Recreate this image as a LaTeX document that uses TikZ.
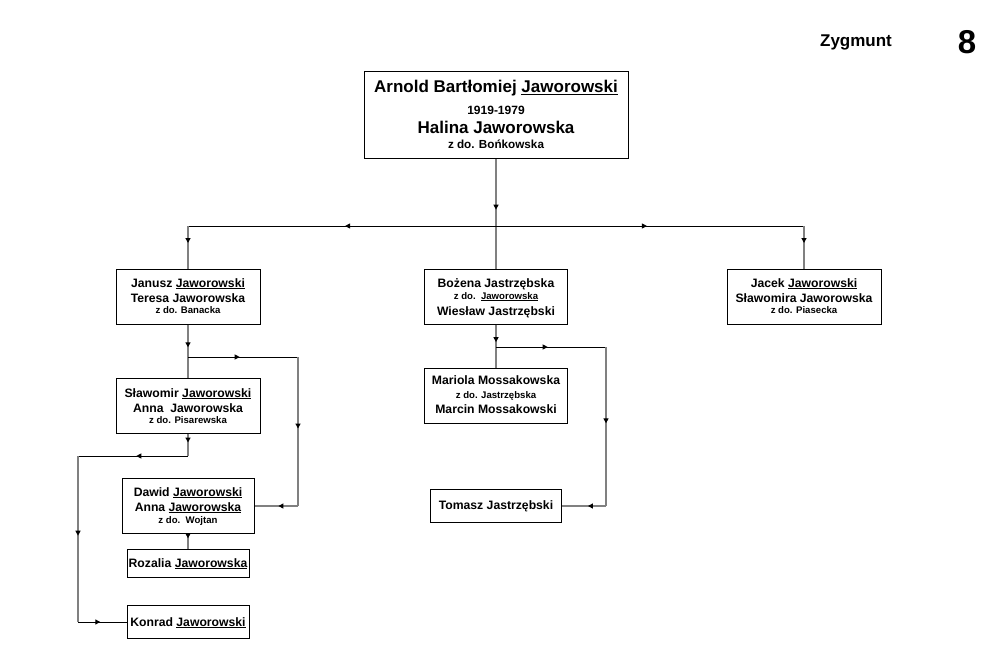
\documentclass[tikz,border=0pt]{standalone}
\usepackage{fontspec}
\setmainfont{Liberation Sans}
\usetikzlibrary{decorations.markings,arrows.meta}
\tikzset{
  box/.style={draw=black,line width=1pt,inner sep=0pt,fill=white},
  huge/.style={font=\bfseries\fontsize{17}{19}\selectfont,anchor=base,inner sep=0pt},
  big/.style={font=\bfseries\fontsize{12.2}{14}\selectfont,anchor=base,inner sep=0pt},
  small/.style={font=\bfseries\fontsize{9.6}{11}\selectfont,anchor=base,inner sep=0pt},
  vline/.style={draw=black!50,line width=2pt},
  hline/.style={draw=black,line width=1pt},
  arr/.style={postaction={decorate,decoration={markings,mark=at position #1 with {\arrow[black]{Triangle[length=5pt,width=5pt]}}}}},
}
\begin{document}
\begin{tikzpicture}[x=1pt,y=-1pt]
\useasboundingbox (0,0) rectangle (1003,671);
% junction coordinates
\coordinate (j0) at (496,226);
\coordinate (jl) at (188,226);
\coordinate (jr) at (804,226);
\coordinate (j1) at (188,357);
\coordinate (j1r) at (298,357);
\coordinate (j1d) at (298,506);
\coordinate (j2) at (188,456);
\coordinate (j2l) at (78,456);
\coordinate (j2d) at (78,622);
\coordinate (j3) at (496,347);
\coordinate (j3r) at (606,347);
\coordinate (j3d) at (606,506);
% boxes
\node[box,minimum width=264pt,minimum height=87pt] (root) at (496,115.5) {};
\node[box,minimum width=144pt,minimum height=55pt] (janusz) at (188,296.5) {};
\node[box,minimum width=143pt,minimum height=55pt] (bozena) at (496,296.5) {};
\node[box,minimum width=154pt,minimum height=55pt] (jacek) at (804,296.5) {};
\node[box,minimum width=144pt,minimum height=55pt] (slawomir) at (188,405.5) {};
\node[box,minimum width=143pt,minimum height=55pt] (mariola) at (496,395.5) {};
\node[box,minimum width=132pt,minimum height=55pt] (dawid) at (188,506) {};
\node[box,minimum width=122pt,minimum height=28pt] (rozalia) at (188,563) {};
\node[box,minimum width=122pt,minimum height=33pt] (konrad) at (188,622) {};
\node[box,minimum width=131pt,minimum height=33pt] (tomasz) at (496,506) {};
% connectors
\draw[vline,arr=0.46] (root.south) -- (bozena.north);
\draw[hline,arr=0.49] (j0) -- (jl);
\draw[hline,arr=0.49] (j0) -- (jr);
\draw[vline,arr=0.4] (jl) -- (janusz.north);
\draw[vline,arr=0.4] (jr) -- (jacek.north);
\draw[vline,arr=0.43] (janusz.south) -- (slawomir.north);
\draw[hline,arr=0.47] (j1) -- (j1r);
\draw[vline,arr=0.48] (j1r) -- (j1d);
\draw[vline,arr=0.45] (j1d) -- (dawid.east);
\draw[vline,arr=0.4] (slawomir.south) -- (j2);
\draw[hline,arr=0.47] (j2) -- (j2l);
\draw[vline,arr=0.48] (j2l) -- (j2d);
\draw[hline,arr=0.46] (j2d) -- (konrad.west);
\draw[vline,arr=0.3] (dawid.south) -- (rozalia.north);
\draw[vline,arr=0.41] (bozena.south) -- (mariola.north);
\draw[hline,arr=0.47] (j3) -- (j3r);
\draw[vline,arr=0.48] (j3r) -- (j3d);
\draw[vline,arr=0.41] (j3d) -- (tomasz.east);
% texts
\node[huge] (r1) at (496,93) {Arnold Bartłomiej \underline{Jaworowski}};
\node[small,font=\bfseries\fontsize{12}{14}\selectfont] (r2) at (496,115) {1919-1979};
\node[huge] (r3) at (496,134) {Halina Jaworowska};
\node[small,font=\bfseries\fontsize{11.7}{14}\selectfont] (r4) at (496,149) {z do. Bońkowska};
\node[big] (a1) at (188,287) {Janusz \underline{Jaworowski}};
\node[big] (a2) at (188,302) {Teresa Jaworowska};
\node[small] (a3) at (188,313) {z do. Banacka};
\node[big] (b1) at (496,287) {Bożena Jastrzębska};
\node[small] (b2) at (496,299) {z do.\ \ \underline{Jaworowska}};
\node[big] (b3) at (496,315) {Wiesław Jastrzębski};
\node[big] (c1) at (804,287) {Jacek \underline{Jaworowski}};
\node[big] (c2) at (804,302) {Sławomira Jaworowska};
\node[small] (c3) at (804,313) {z do. Piasecka};
\node[big] (d1) at (188,397) {Sławomir \underline{Jaworowski}};
\node[big] (d2) at (188,412) {Anna\ \ Jaworowska};
\node[small] (d3) at (188,423) {z do. Pisarewska};
\node[big] (e1) at (496,384) {Mariola Mossakowska};
\node[small] (e2) at (496,398) {z do. Jastrzębska};
\node[big] (e3) at (496,413) {Marcin Mossakowski};
\node[big] (f1) at (188,496) {Dawid \underline{Jaworowski}};
\node[big] (f2) at (188,511) {Anna \underline{Jaworowska}};
\node[small] (f3) at (188,523) {z do.\ \ Wojtan};
\node[big] (g1) at (188,567) {Rozalia \underline{Jaworowska}};
\node[big] (h1) at (188,626) {Konrad \underline{Jaworowski}};
\node[big] (i1) at (496,509) {Tomasz Jastrzębski};
\node[font=\bfseries\fontsize{17}{19}\selectfont,anchor=base,inner sep=0pt] (zyg) at (856,47) {Zygmunt};
\node[font=\bfseries\fontsize{33}{36}\selectfont,anchor=base,inner sep=0pt] (num) at (967,54) {8};
\end{tikzpicture}
\end{document}
